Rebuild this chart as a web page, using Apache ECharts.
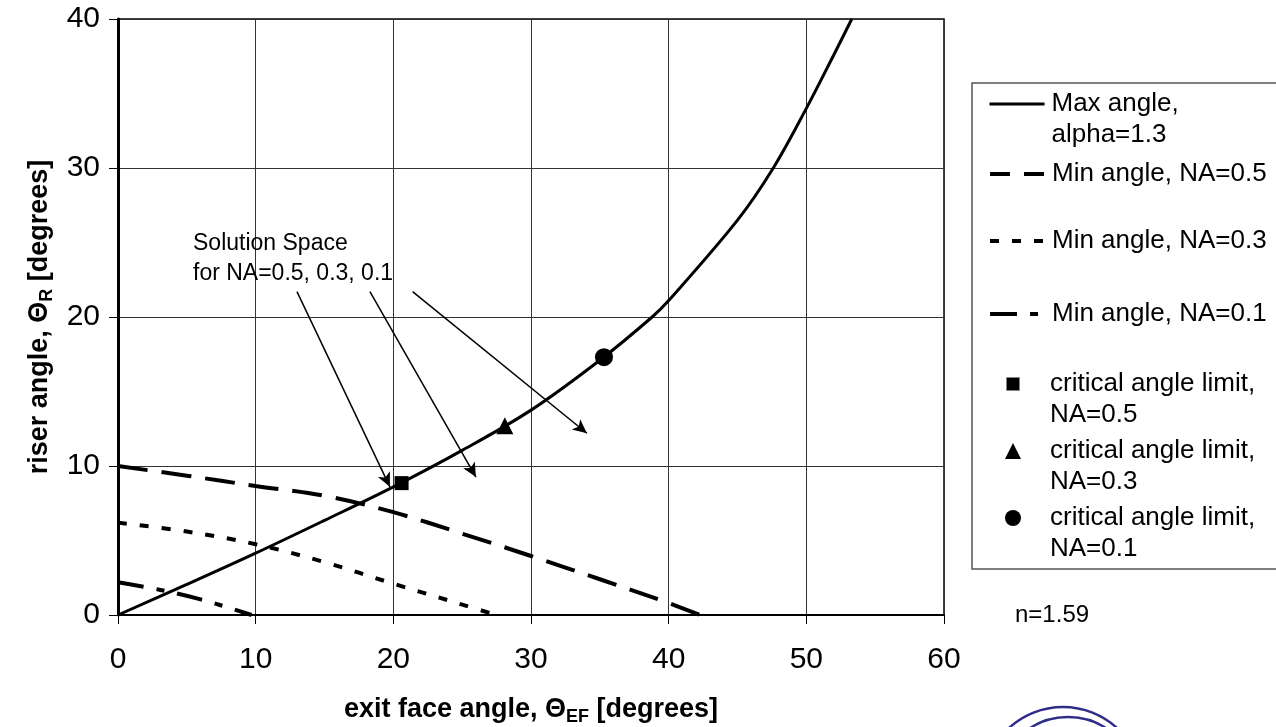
<!DOCTYPE html>
<html><head><meta charset="utf-8">
<script src="https://cdn.jsdelivr.net/npm/echarts@6/dist/echarts.min.js"></script>
<style>html,body{margin:0;padding:0;background:#fff}#c{width:1276px;height:727px}</style>
</head><body><div id="c"></div>
<script>
// ---- data ----
const xTicks = [0, 10, 20, 30, 40, 50, 60];
const yTicks = [0, 10, 20, 30, 40];
const maxAngleX = [0, 5, 10, 15, 20, 25, 30, 35, 38.8, 40, 45, 47.6, 50, 52, 53.3];
const maxAngleY = [0, 2.05, 4.15, 6.35, 8.6, 11.05, 13.75, 17.1, 20, 21.1, 26.5, 30, 34.0, 37.6, 40];
const minNA05X = [0, 5, 10, 15, 20, 25, 30, 35, 39.4, 42.3];
const minNA05Y = [10, 9.35, 8.66, 8.0, 6.9, 5.46, 3.96, 2.4, 1.0, 0];
const minNA03X = [0, 5, 10, 15, 20, 25, 27.5];
const minNA03Y = [6.2, 5.6, 4.75, 3.55, 2.1, 0.7, 0];
const minNA01X = [0, 3, 6, 9.7];
const minNA01Y = [2.2, 1.7, 1.05, 0];
const critNA05 = [20.6, 8.85];
const critNA03 = [28.1, 12.7];
const critNA01 = [35.3, 17.3];
// annotation arrows: [startX, startY, endX, endY] in data units
const arrows = [
  [13.0, 21.7, 19.75, 8.6],
  [18.3, 21.7, 26.0, 9.26],
  [21.4, 21.7, 34.06, 12.2]
];
const names = ['Max angle,\nalpha=1.3', 'Min angle, NA=0.5', 'Min angle, NA=0.3', 'Min angle, NA=0.1',
  'critical angle limit,\nNA=0.5', 'critical angle limit,\nNA=0.3', 'critical angle limit,\nNA=0.1'];

const zip = (xs, ys) => xs.map((x, i) => [x, ys[i]]);
const FONT = '"Liberation Sans", Arial, sans-serif';
const chart = echarts.init(document.getElementById('c'), null, {renderer: 'canvas'});

const legendTops = [106.5, 176.5, 243.5, 316.5, 386.5, 453.5, 520.5];
const twoLine = [true, false, false, false, true, true, true];
const isMarker = [false, false, false, false, true, true, true];
const markerSize = [0, 0, 0, 0, 13, 16, 16];
const legendDash = ['solid', [20, 14], [9, 13], [27, 13, 8, 13], null, null, null];
const LH = 31;
const legends = names.map((n, i) => {
  const lines = n.split('\n');
  if (twoLine[i]) lines.unshift('');
  const sp = isMarker[i] ? 1050 - (1013 - markerSize[i] / 2 + markerSize[i] + 5) : 2;
  const lg = {
    data: [n],
    left: isMarker[i] ? 1013 - markerSize[i] / 2 : 988,
    top: twoLine[i] ? legendTops[i] - LH * 1.5 : legendTops[i] - LH / 2,
    padding: 0,
    itemWidth: isMarker[i] ? markerSize[i] : 55,
    itemHeight: isMarker[i] ? markerSize[i] : 14,
    itemGap: 0,
    selectedMode: false,
    itemStyle: isMarker[i] ? {opacity: 1} : {opacity: 0},
    formatter: () => lines.map(l => '{s| }{t|' + (l || ' ') + '}').join('\n'),
    textStyle: {rich: {
      s: {width: sp, lineHeight: LH, fontSize: 10},
      t: {fontFamily: FONT, fontSize: 26, color: '#000', lineHeight: LH}
    }}
  };
  if (legendDash[i]) lg.lineStyle = {type: legendDash[i], color: '#000', width: i === 0 ? 3 : 4};
  return lg;
});

const lineS = (name, data, width, type) => ({
  name, type: 'line', data, smooth: 0.35, symbol: 'none',
  lineStyle: {color: '#000', width, type}, itemStyle: {color: '#000'}, z: 3
});

const richTitle = {
  b: {fontFamily: FONT, fontSize: 27, fontWeight: 'bold', color: '#000'},
  s: {fontFamily: FONT, fontSize: 18, fontWeight: 'bold', color: '#000', verticalAlign: 'bottom', padding: [14, 0, 0, 0]}
};

chart.setOption({
  animation: false,
  backgroundColor: '#fff',
  grid: {left: 118, right: 332, top: 19, bottom: 112, show: true, borderColor: '#000', borderWidth: 1.5,
    containLabel: false, outerBoundsMode: 'none'},
  legend: legends,
  xAxis: {
    type: 'value', min: xTicks[0], max: xTicks[xTicks.length - 1], interval: 10,
    axisLine: {show: true, onZero: false, lineStyle: {color: '#000', width: 2}},
    axisTick: {show: true, length: 9, lineStyle: {color: '#000', width: 1}},
    splitLine: {show: true, lineStyle: {color: '#333', width: 1}},
    axisLabel: {fontFamily: FONT, fontSize: 30, color: '#000', margin: 30},
    name: '{b|exit face angle, Θ}{s|EF}{b| [degrees]}',
    nameLocation: 'middle', nameGap: 79,
    nameTextStyle: {rich: richTitle}
  },
  yAxis: {
    type: 'value', min: yTicks[0], max: yTicks[yTicks.length - 1], interval: 10,
    axisLine: {show: true, onZero: false, lineStyle: {color: '#000', width: 3}},
    axisTick: {show: true, length: 9, lineStyle: {color: '#000', width: 1}},
    splitLine: {show: true, lineStyle: {color: '#333', width: 1}},
    axisLabel: {fontFamily: FONT, fontSize: 30, color: '#000', margin: 18},
    name: '{b|riser angle, Θ}{s|R}{b| [degrees]}',
    nameLocation: 'middle', nameGap: 62, nameRotate: 90,
    nameTextStyle: {rich: richTitle}
  },
  series: [
    Object.assign(lineS(names[0], zip(maxAngleX, maxAngleY), 3, 'solid'), {
      markLine: {
        silent: true, symbol: ['none', 'arrow'], symbolSize: [10, 14],
        lineStyle: {color: '#000', width: 1.5, type: 'solid'},
        label: {show: false},
        data: arrows.map(a => [{coord: [a[0], a[1]]}, {coord: [a[2], a[3]]}])
      }
    }),
    lineS(names[1], zip(minNA05X, minNA05Y), 4, [30, 14]),
    lineS(names[2], zip(minNA03X, minNA03Y), 4, [9, 13]),
    lineS(names[3], zip(minNA01X, minNA01Y), 4, [26, 13, 8, 13]),
    {name: names[4], type: 'scatter', data: [critNA05], symbol: 'rect', symbolSize: 14, itemStyle: {color: '#000', opacity: 1}, z: 4},
    {name: names[5], type: 'scatter', data: [critNA03], symbol: 'triangle', symbolSize: 17, itemStyle: {color: '#000', opacity: 1}, z: 4},
    {name: names[6], type: 'scatter', data: [critNA01], symbol: 'circle', symbolSize: 18, itemStyle: {color: '#000', opacity: 1}, z: 4}
  ],
  graphic: [
    {type: 'rect', z: 0, shape: {x: 972, y: 83, width: 330, height: 486},
      style: {fill: 'none', stroke: '#555', lineWidth: 1.5}},
    {type: 'text', left: 193, top: 229, z: 10,
      style: {text: 'Solution Space\nfor NA=0.5, 0.3, 0.1', font: '23px ' + FONT, fill: '#000', lineHeight: 30}},
    {type: 'text', left: 1015, top: 603, z: 10,
      style: {text: 'n=1.59', font: '24px ' + FONT, fill: '#000'}},
    {type: 'circle', z: 0, shape: {cx: 1063, cy: 787, r: 80}, style: {fill: 'none', stroke: '#2e2e8a', lineWidth: 2.5}},
    {type: 'circle', z: 0, shape: {cx: 1068, cy: 787, r: 70}, style: {fill: 'none', stroke: '#2e2e8a', lineWidth: 2.5}}
  ]
});
</script></body></html>
